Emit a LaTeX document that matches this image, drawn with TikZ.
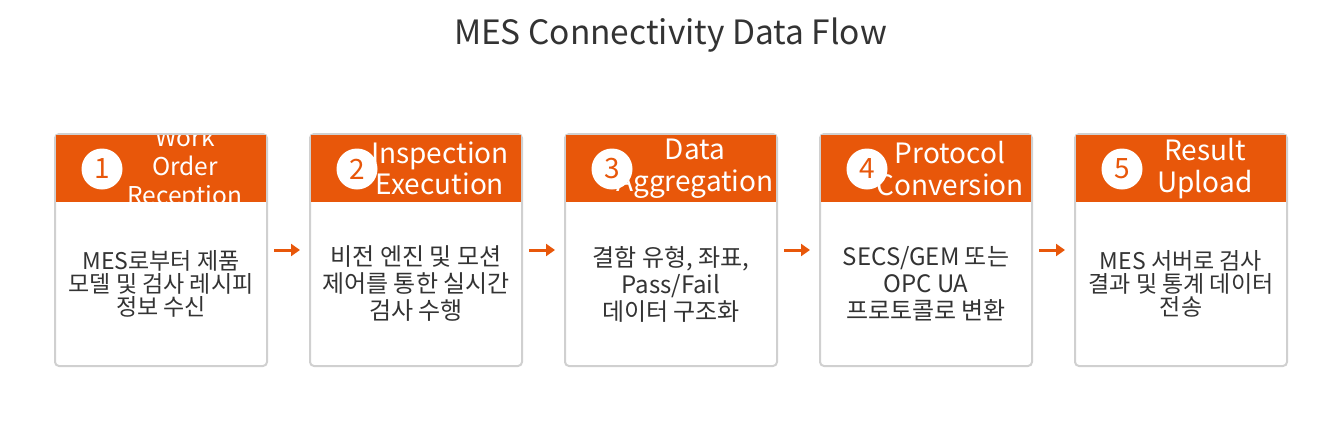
\documentclass[tikz,border=0pt]{standalone}
\usepackage{fontspec}
\setmainfont{Noto Sans CJK KR}
\usetikzlibrary{arrows.meta}
\definecolor{accent}{HTML}{E8570A}
\definecolor{ink}{HTML}{333333}
\definecolor{edge}{HTML}{D0D0D0}
\tikzset{
  card/.style={draw=edge, line width=2pt, rounded corners=4pt, fill=white, minimum width=212pt, minimum height=232pt, inner sep=0pt},
  header/.style={fill=accent, minimum width=210pt, minimum height=67pt, inner sep=0pt},
  titletext/.style={text=white, align=center, inner sep=0pt, font=\fontsize{28}{31.5}\selectfont},
  smalltitle/.style={text=white, align=center, inner sep=0pt, font=\fontsize{24.5}{29}\selectfont},
  numcirc/.style={circle, fill=white, minimum size=41pt, inner sep=0pt, text=accent, font=\fontsize{28}{28}\selectfont},
  bodybig/.style={text=ink, align=center, inner sep=0pt, font=\fontsize{24}{27}\selectfont},
  bodysmall/.style={text=ink, align=center, inner sep=0pt, font=\fontsize{23}{23}\selectfont},
  flow/.style={draw=accent, line width=3pt, -{Triangle[length=9pt,width=12pt]}}
}
\newcommand\flowcard[6]{%
  \node[card] (b#1) at (#2+107,250) {};
  \begin{scope}
    \clip (#2+2,135) rectangle (#2+212,202);
    \node[header] (h#1) at (#2+107,168.5) {};
    \node[#5] (t#1) at (#2+131,168.5) {#3};
  \end{scope}
  \node[numcirc] (c#1) at (#2+48,169) {#1};
  \node[#6] (d#1) at (#2+107,284) {#4};
}
\begin{document}
\begin{tikzpicture}[x=1pt,y=-1pt]
\useasboundingbox (0,0) rectangle (1341,424);
\node[text=ink, font=\fontsize{33.5}{40}\selectfont] (title) at (670.5,35) {MES Connectivity Data Flow};
\flowcard{1}{54}{Work\\Order\\Reception}{MES로부터 제품\\모델 및 검사 레시피\\정보 수신}{smalltitle}{bodysmall}
\flowcard{2}{309}{Inspection\\Execution}{비전 엔진 및 모션\\제어를 통한 실시간\\검사 수행}{titletext}{bodybig}
\flowcard{3}{564}{Data\\Aggregation}{결함 유형, 좌표,\\Pass/Fail\\데이터 구조화}{titletext}{bodybig}
\flowcard{4}{819}{Protocol\\Conversion}{SECS/GEM 또는\\OPC UA\\프로토콜로 변환}{titletext}{bodybig}
\flowcard{5}{1074}{Result\\Upload}{MES 서버로 검사\\결과 및 통계 데이터\\전송}{titletext}{bodysmall}
\foreach \a/\b in {1/2,2/3,3/4,4/5}{
  \draw[flow] ([xshift=6pt,yshift=0pt]b\a.east) -- ([xshift=-9pt]b\b.west);
}
\end{tikzpicture}
\end{document}
